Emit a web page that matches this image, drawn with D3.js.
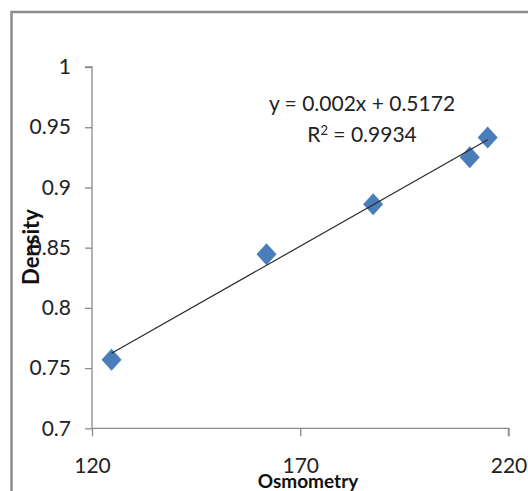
<!DOCTYPE html>
<html>
<head>
<meta charset="utf-8">
<script src="https://cdn.jsdelivr.net/npm/d3@7"></script>
<style>
  html, body { margin: 0; padding: 0; background: #fff; }
  svg { display: block; font-family: Lato, "Open Sans", sans-serif; }
</style>
</head>
<body>
<svg id="chart" width="528" height="491"></svg>
<script>
let WIDTH = 528, HEIGHT = 491;
let M = { top: 67, right: 19, bottom: 63, left: 92 };

// data
let osmometry = [124.7, 161.9, 187.5, 210.7, 215.0];
let density   = [0.757, 0.8446, 0.886, 0.925, 0.9414];

let xTicks = [120, 170, 220];
let yTicks = [0.7, 0.75, 0.8, 0.85, 0.9, 0.95, 1];

let eqLabel = "y = 0.002x + 0.5172";
let r2Value = "0.9934";

let svg = d3.select("#chart");

// outer chart frame (only left/top visible in the crop)
svg.append("rect")
    .attr("x", 11.5).attr("y", 12)
    .attr("width", WIDTH + 20).attr("height", HEIGHT + 20)
    .attr("fill", "none")
    .attr("stroke", "#8c8c8c")
    .attr("stroke-width", 2.5);

let x = d3.scaleLinear().domain([120, 220]).range([M.left, 508.5]);
let y = d3.scaleLinear().domain([0.7, 1]).range([428.3, M.top]);

let axisColor = "#8a8a8a";

// y axis
let yAxis = svg.append("g")
    .attr("transform", `translate(${M.left},0)`)
    .call(d3.axisLeft(y).tickValues(yTicks).tickSize(7).tickPadding(14)
        .tickFormat(d => d3.format("")(+d.toFixed(2))));
// x axis
let xAxis = svg.append("g")
    .attr("transform", `translate(0,${y(0.7)})`)
    .call(d3.axisBottom(x).tickValues(xTicks).tickSize(8).tickPadding(22));

[xAxis, yAxis].forEach(function(g) {
    g.select(".domain").attr("stroke", axisColor).attr("stroke-width", 1.3);
    g.selectAll(".tick line").attr("stroke", axisColor).attr("stroke-width", 1.3);
    g.selectAll(".tick text")
        .attr("fill", "#222")
        .style("font-size", "21px")
        .style("font-family", "Lato, 'Open Sans', sans-serif");
});
// axis ends without outer tick caps (Excel style)
yAxis.select(".domain").attr("d", `M-7,${y(1)}H0V${y(0.7)}`);
xAxis.select(".domain").attr("d", `M${x(120)},0H${x(220)}V8`);

// trendline from least squares over the data
let mx = d3.mean(osmometry), my = d3.mean(density);
let sxy = d3.sum(osmometry, (v, i) => (v - mx) * (density[i] - my));
let sxx = d3.sum(osmometry, v => (v - mx) * (v - mx));
let slope = sxy / sxx;
let intercept = my - slope * mx;
let xr = d3.extent(osmometry);

let pts = osmometry.map((v, i) => ({ x: v, y: density[i] }));

// markers
svg.append("g").selectAll("path")
    .data(pts)
    .join("path")
    .attr("transform", d => `translate(${x(d.x)},${y(d.y)})`)
    .attr("d", "M0,-11L10,0L0,11L-10,0Z")
    .attr("fill", "#4a7ebb");

svg.append("line")
    .attr("x1", x(xr[0])).attr("y1", y(slope * xr[0] + intercept))
    .attr("x2", x(xr[1])).attr("y2", y(slope * xr[1] + intercept))
    .attr("stroke", "#2b2b2b")
    .attr("stroke-width", 1.2);

// equation label
let eq = svg.append("g").attr("fill", "#222").style("font-size", "21px");
eq.append("text")
    .attr("x", 362).attr("y", 111)
    .attr("text-anchor", "middle")
    .text(eqLabel);
let r2 = eq.append("text")
    .attr("x", 362).attr("y", 142)
    .attr("text-anchor", "middle");
r2.append("tspan").text("R");
r2.append("tspan").attr("dy", -7).style("font-size", "13px").text("2");
r2.append("tspan").attr("dy", 7).text(" = " + r2Value);

// axis titles
svg.append("text")
    .attr("x", 308).attr("y", 488)
    .attr("text-anchor", "middle")
    .attr("font-weight", "bold")
    .style("font-size", "19px")
    .attr("fill", "#111")
    .text("Osmometry");

svg.append("text")
    .attr("transform", `translate(39,247) rotate(-90)`)
    .attr("text-anchor", "middle")
    .attr("font-weight", "bold")
    .style("font-size", "22px")
    .attr("fill", "#111")
    .text("Density");
</script>
</body>
</html>
